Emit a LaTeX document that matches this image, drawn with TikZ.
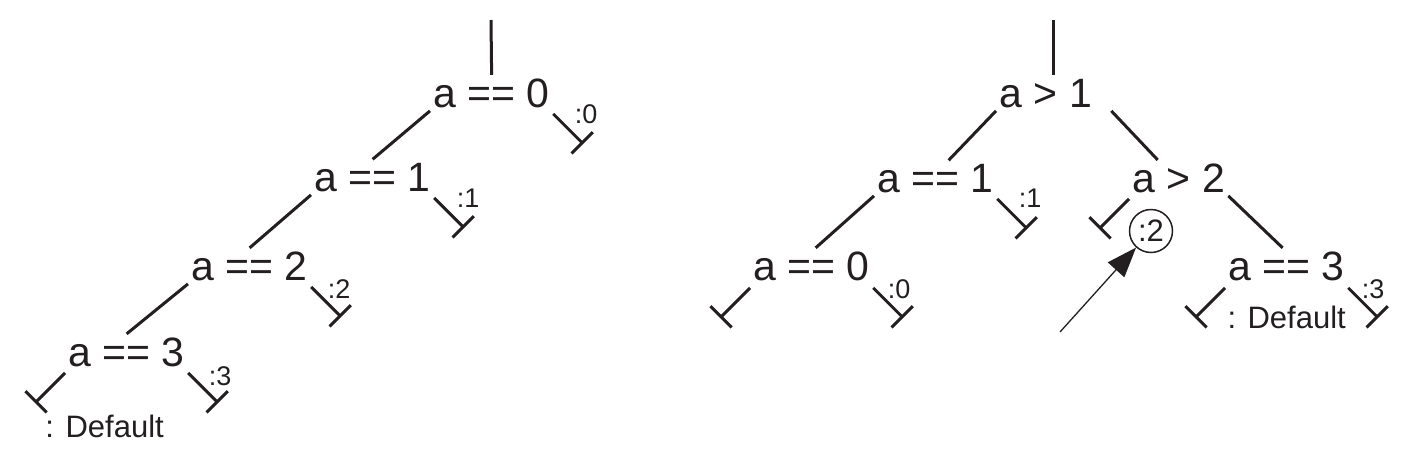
\documentclass[tikz,border=0pt]{standalone}
\usepackage{fontspec}
\setmainfont{Liberation Sans}
\usetikzlibrary{arrows.meta}
\definecolor{ink}{RGB}{35,31,32}

\begin{document}
\begin{tikzpicture}[x=0.5pt,y=-0.5pt,line width=1.5pt,color=ink,
  cond/.style={inner sep=1pt,font=\fontsize{20.5}{24}\selectfont},
  lbl/.style={inner sep=0pt,font=\fontsize{13.5}{15}\selectfont},
  dflt/.style={inner sep=0pt,font=\fontsize{15.5}{18}\selectfont},
  stub/.style={-{Bar[width=15pt]}},
  pointer/.style={line width=.65pt,-{Triangle[length=15pt,width=11pt]}}]
\useasboundingbox (0,0) rectangle (1421,467);
% left: chain of ==
\coordinate (topL) at (491,20);
\node[cond,anchor=base west] (l0) at (430,107) {a == 0};
\node[cond,anchor=base west] (l1) at (311,191) {a == 1};
\node[cond,anchor=base west] (l2) at (188,280) {a == 2};
\node[cond,anchor=base west] (l3) at (65,366) {a == 3};
\draw (topL) -- (l0.north);
\draw (l0.south west) -- (l1.north);
\draw (l1.south west) -- (l2.north);
\draw (l2.south west) -- (l3.north);
\draw[stub] ([shift={(0,3)}]l0.south east) -- ++(30,30);
\draw[stub] ([shift={(0,3)}]l1.south east) -- ++(30,30);
\draw[stub] ([shift={(0,3)}]l2.south east) -- ++(30,30);
\draw[stub] ([shift={(0,3)}]l3.south east) -- ++(30,30);
\draw[stub] ([shift={(0,3)}]l3.south west) -- ++(-30,30);
\node[lbl,anchor=base west] (k0) at ([shift={(20,16)}]l0.base east) {:0};
\node[lbl,anchor=base west] (k1) at ([shift={(21,16)}]l1.base east) {:1};
\node[lbl,anchor=base west] (k2) at ([shift={(15,18)}]l2.base east) {:2};
\node[lbl,anchor=base west] (k3) at ([shift={(19,19)}]l3.base east) {:3};
\node[dflt,anchor=base west] (dL) at (44,437) {: Default};
% right: binary split
\coordinate (topR) at (1053,20);
\node[cond,anchor=base west] (r0) at (996,107) {a > 1};
\node[cond,anchor=base west] (r1) at (874,192) {a == 1};
\node[cond,anchor=base west] (r2) at (1129,192) {a > 2};
\node[cond,anchor=base west] (r3) at (750,280) {a == 0};
\node[cond,anchor=base west] (r4) at (1225,280) {a == 3};
\draw (topR) -- (topR |- r0.north);
\draw (r0.south west) -- ([shift={(13,0)}]r1.north);
\draw ([shift={(16,0)}]r0.south east) -- ([shift={(-21,0)}]r2.north);
\draw (r1.south west) -- ([shift={(4,0)}]r3.north);
\draw (r2.south east) -- ([shift={(-4,0)}]r4.north);
\draw[stub] ([shift={(0,3)}]r1.south east) -- ++(30,30);
\draw[stub] ([shift={(0,3)}]r2.south west) -- ++(-30,30);
\draw[stub] ([shift={(0,4)}]r3.south west) -- ++(-30,30);
\draw[stub] ([shift={(0,4)}]r3.south east) -- ++(30,30);
\draw[stub] ([shift={(0,4)}]r4.south west) -- ++(-30,30);
\draw[stub] ([shift={(0,4)}]r4.south east) -- ++(30,30);
\node[lbl,anchor=base west] (m1) at ([shift={(20,15)}]r1.base east) {:1};
\node[lbl,anchor=base west] (m0) at ([shift={(13,18)}]r3.base east) {:0};
\node[lbl,anchor=base west] (m3) at ([shift={(12,18)}]r4.base east) {:3};
\node[dflt,anchor=base west] (dR) at (1226,328) {: Default};
\node[dflt,draw,circle,line width=.75pt,minimum size=21.5pt] (c2) at (1151,231) {:2};
\coordinate (tail) at (1060,332);
\draw[pointer] (tail) -- (c2);
\end{tikzpicture}
\end{document}
